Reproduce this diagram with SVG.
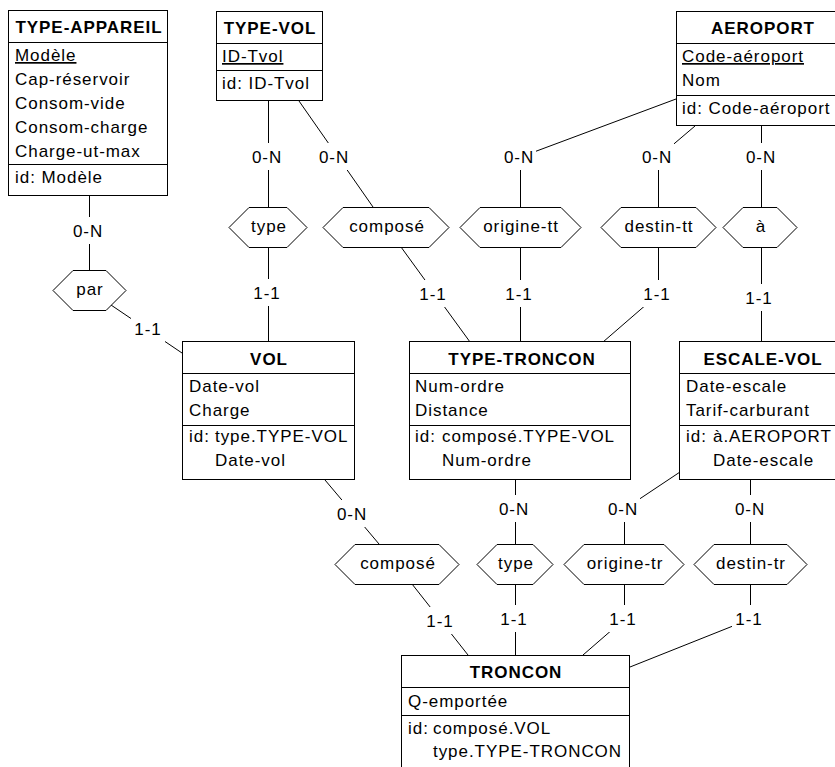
<svg xmlns="http://www.w3.org/2000/svg" width="835" height="767" viewBox="0 0 835 767">
  <style>
    text { font-family: "Liberation Sans", Arial, Helvetica, sans-serif; font-size: 17px; letter-spacing: 0.95px; fill: #000; }
    .title { font-weight: bold; text-anchor: middle; }
    .mid { text-anchor: middle; }
    .u { text-decoration: underline; }
    .box { fill: #fff; stroke: #000; stroke-width: 1; }
    .sep { stroke: #000; stroke-width: 1; }
    .hex { fill: #fff; stroke: #000; stroke-width: 1; }
    .link { fill: none; stroke: #000; stroke-width: 1; }
    .bg { fill: #fff; }
  </style>

  <rect width="835" height="767" fill="#fff"/>

  <!-- connectors with their cardinalities -->
  <g id="connectors">
    <polyline class="link" points="89.5,195 89.5,271"/>
    <polyline class="link" points="111,305 182,353"/>
    <polyline class="link" points="268.5,101 268.5,207"/>
    <polyline class="link" points="268.5,247 268.5,342"/>
    <polyline class="link" points="299,101 373,207"/>
    <polyline class="link" points="401,247 470,342"/>
    <polyline class="link" points="676,99 520.5,157 520.5,207"/>
    <polyline class="link" points="520.5,247 520.5,342"/>
    <polyline class="link" points="695,126 658.5,157 658.5,207"/>
    <polyline class="link" points="658.5,247 658.5,294 603,342"/>
    <polyline class="link" points="761.5,126 761.5,207"/>
    <polyline class="link" points="761.5,247 761.5,342"/>
    <polyline class="link" points="325,480 379,544"/>
    <polyline class="link" points="412,584 468,655"/>
    <polyline class="link" points="515.5,480 515.5,544"/>
    <polyline class="link" points="515.5,584 515.5,655"/>
    <polyline class="link" points="680,472 624.5,509 624.5,544"/>
    <polyline class="link" points="624.5,584 624.5,619 583,655"/>
    <polyline class="link" points="750.5,480 750.5,544"/>
    <polyline class="link" points="750.5,584 750.5,619 630,667"/>

    <g id="cardinalities">
      <rect class="bg" x="71" y="217" width="34" height="27"/><text class="mid" x="88" y="237">0-N</text>
      <rect class="bg" x="131" y="315" width="34" height="27"/><text class="mid" x="148" y="335">1-1</text>
      <rect class="bg" x="250" y="143" width="34" height="27"/><text class="mid" x="267" y="163">0-N</text>
      <rect class="bg" x="250" y="279" width="34" height="27"/><text class="mid" x="267" y="299">1-1</text>
      <rect class="bg" x="317" y="143" width="34" height="27"/><text class="mid" x="334" y="163">0-N</text>
      <rect class="bg" x="416" y="280" width="34" height="27"/><text class="mid" x="433" y="300">1-1</text>
      <rect class="bg" x="502" y="143" width="34" height="27"/><text class="mid" x="519" y="163">0-N</text>
      <rect class="bg" x="502" y="280" width="34" height="27"/><text class="mid" x="519" y="300">1-1</text>
      <rect class="bg" x="640" y="143" width="34" height="27"/><text class="mid" x="657" y="163">0-N</text>
      <rect class="bg" x="640" y="280" width="34" height="27"/><text class="mid" x="657" y="300">1-1</text>
      <rect class="bg" x="744" y="143" width="34" height="27"/><text class="mid" x="761" y="163">0-N</text>
      <rect class="bg" x="742" y="284" width="34" height="27"/><text class="mid" x="759" y="304">1-1</text>
      <rect class="bg" x="335" y="500" width="34" height="27"/><text class="mid" x="352" y="520">0-N</text>
      <rect class="bg" x="423" y="607" width="34" height="27"/><text class="mid" x="440" y="627">1-1</text>
      <rect class="bg" x="497" y="495" width="34" height="27"/><text class="mid" x="514" y="515">0-N</text>
      <rect class="bg" x="497" y="605" width="34" height="27"/><text class="mid" x="514" y="625">1-1</text>
      <rect class="bg" x="606" y="495" width="34" height="27"/><text class="mid" x="623" y="515">0-N</text>
      <rect class="bg" x="606" y="605" width="34" height="27"/><text class="mid" x="623" y="625">1-1</text>
      <rect class="bg" x="733" y="495" width="34" height="27"/><text class="mid" x="750" y="515">0-N</text>
      <rect class="bg" x="732" y="605" width="34" height="27"/><text class="mid" x="749" y="625">1-1</text>
    </g>
  </g>

  <!-- relationship types -->
  <g id="rel-par">
    <polygon class="hex" points="53,290.5 73,270.5 106,270.5 126,290.5 106,310.5 73,310.5"/>
    <text class="mid" x="90" y="295">par</text>
  </g>
  <g id="rel-type-vol">
    <polygon class="hex" points="229,227.5 249,207.5 287,207.5 307,227.5 287,247.5 249,247.5"/>
    <text class="mid" x="269" y="232">type</text>
  </g>
  <g id="rel-compose-tt">
    <polygon class="hex" points="323,227.5 343,207.5 429,207.5 449,227.5 429,247.5 343,247.5"/>
    <text class="mid" x="387" y="232">composé</text>
  </g>
  <g id="rel-origine-tt">
    <polygon class="hex" points="460,227.5 480,207.5 561,207.5 581,227.5 561,247.5 480,247.5"/>
    <text class="mid" x="521" y="232">origine-tt</text>
  </g>
  <g id="rel-destin-tt">
    <polygon class="hex" points="601,227.5 621,207.5 696,207.5 716,227.5 696,247.5 621,247.5"/>
    <text class="mid" x="659" y="232">destin-tt</text>
  </g>
  <g id="rel-a">
    <polygon class="hex" points="723,227.5 743,207.5 777,207.5 797,227.5 777,247.5 743,247.5"/>
    <text class="mid" x="761" y="232">à</text>
  </g>
  <g id="rel-compose-vol">
    <polygon class="hex" points="335,564.5 355,544.5 439,544.5 459,564.5 439,584.5 355,584.5"/>
    <text class="mid" x="398" y="569">composé</text>
  </g>
  <g id="rel-type-tr">
    <polygon class="hex" points="477,564.5 497,544.5 533,544.5 553,564.5 533,584.5 497,584.5"/>
    <text class="mid" x="516" y="569">type</text>
  </g>
  <g id="rel-origine-tr">
    <polygon class="hex" points="564,564.5 584,544.5 664,544.5 684,564.5 664,584.5 584,584.5"/>
    <text class="mid" x="625" y="569">origine-tr</text>
  </g>
  <g id="rel-destin-tr">
    <polygon class="hex" points="694,564.5 714,544.5 787,544.5 807,564.5 787,584.5 714,584.5"/>
    <text class="mid" x="751" y="569">destin-tr</text>
  </g>

  <!-- entity types -->
  <g id="type-appareil">
    <rect class="box" x="8.5" y="10.5" width="159" height="185"/>
    <line class="sep" x1="8.5" y1="42.5" x2="167.5" y2="42.5"/>
    <line class="sep" x1="8.5" y1="164.5" x2="167.5" y2="164.5"/>
    <text class="title" x="89" y="33">TYPE-APPAREIL</text>
    <text class="u" x="15" y="61">Modèle</text>
    <text x="15" y="85">Cap-réservoir</text>
    <text x="15" y="109">Consom-vide</text>
    <text x="15" y="133">Consom-charge</text>
    <text x="15" y="157">Charge-ut-max</text>
    <text x="15" y="183">id: Modèle</text>
  </g>

  <g id="type-vol">
    <rect class="box" x="216.5" y="11.5" width="106" height="89"/>
    <line class="sep" x1="216.5" y1="43.5" x2="322.5" y2="43.5"/>
    <line class="sep" x1="216.5" y1="70.5" x2="322.5" y2="70.5"/>
    <text class="title" x="270" y="34">TYPE-VOL</text>
    <text class="u" x="222" y="62">ID-Tvol</text>
    <text x="222" y="89">id: ID-Tvol</text>
  </g>

  <g id="aeroport">
    <rect class="box" x="676.5" y="11.5" width="180" height="114"/>
    <line class="sep" x1="676.5" y1="43.5" x2="856.5" y2="43.5"/>
    <line class="sep" x1="676.5" y1="95.5" x2="856.5" y2="95.5"/>
    <text class="title" x="763" y="34">AEROPORT</text>
    <text class="u" x="682" y="62">Code-aéroport</text>
    <text x="682" y="86">Nom</text>
    <text x="682" y="114">id: Code-aéroport</text>
  </g>

  <g id="vol">
    <rect class="box" x="182.5" y="341.5" width="172" height="138"/>
    <line class="sep" x1="182.5" y1="373.5" x2="354.5" y2="373.5"/>
    <line class="sep" x1="182.5" y1="425.5" x2="354.5" y2="425.5"/>
    <text class="title" x="269" y="365">VOL</text>
    <text x="189" y="392">Date-vol</text>
    <text x="189" y="416">Charge</text>
    <text x="189" y="442">id:</text>
    <text x="215" y="442">type.TYPE-VOL</text>
    <text x="215" y="466">Date-vol</text>
  </g>

  <g id="type-troncon">
    <rect class="box" x="409.5" y="341.5" width="221" height="138"/>
    <line class="sep" x1="409.5" y1="373.5" x2="630.5" y2="373.5"/>
    <line class="sep" x1="409.5" y1="425.5" x2="630.5" y2="425.5"/>
    <text class="title" x="522" y="365">TYPE-TRONCON</text>
    <text x="415" y="392">Num-ordre</text>
    <text x="415" y="416">Distance</text>
    <text x="415" y="442">id:</text>
    <text x="442" y="442">composé.TYPE-VOL</text>
    <text x="442" y="466">Num-ordre</text>
  </g>

  <g id="escale-vol">
    <rect class="box" x="679.5" y="341.5" width="180" height="138"/>
    <line class="sep" x1="679.5" y1="373.5" x2="859.5" y2="373.5"/>
    <line class="sep" x1="679.5" y1="425.5" x2="859.5" y2="425.5"/>
    <text class="title" x="763" y="365">ESCALE-VOL</text>
    <text x="686" y="392">Date-escale</text>
    <text x="686" y="416">Tarif-carburant</text>
    <text x="686" y="442">id:</text>
    <text x="713" y="442">à.AEROPORT</text>
    <text x="713" y="466">Date-escale</text>
  </g>

  <g id="troncon">
    <rect class="box" x="401.5" y="655.5" width="228" height="130"/>
    <line class="sep" x1="401.5" y1="687.5" x2="629.5" y2="687.5"/>
    <line class="sep" x1="401.5" y1="715.5" x2="629.5" y2="715.5"/>
    <text class="title" x="516" y="678">TRONCON</text>
    <text x="408" y="707">Q-emportée</text>
    <text x="408" y="734">id:</text>
    <text x="433" y="734">composé.VOL</text>
    <text x="433" y="757">type.TYPE-TRONCON</text>
  </g>
</svg>
